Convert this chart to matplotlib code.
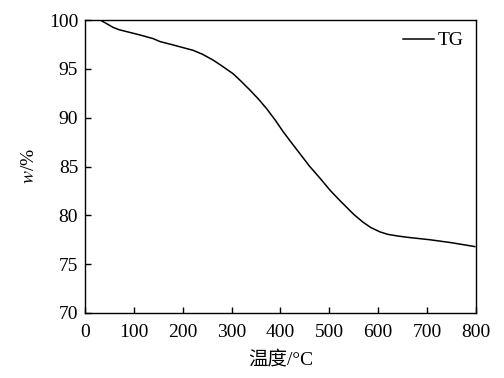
import matplotlib
matplotlib.use("Agg")
import matplotlib.pyplot as plt

# TG curve
temp = [31, 45, 57, 70, 86, 110, 139, 153, 180, 221, 240, 262, 280, 303, 320,
        338, 355, 372, 390, 405, 420, 440, 460, 481, 501, 520, 536, 550, 569,
        585, 604, 620, 638, 660, 706, 750, 798]
weight = [100.0, 99.6, 99.25, 99.0, 98.8, 98.5, 98.1, 97.8, 97.45, 96.9, 96.5,
          95.9, 95.3, 94.5, 93.7, 92.8, 91.9, 90.9, 89.7, 88.6, 87.6, 86.3,
          85.0, 83.8, 82.6, 81.6, 80.8, 80.1, 79.3, 78.75, 78.3, 78.05, 77.9,
          77.75, 77.5, 77.2, 76.8]

xticks = [0, 100, 200, 300, 400, 500, 600, 700, 800]
yticks = [70, 75, 80, 85, 90, 95, 100]

plt.rcParams['font.family'] = ['Liberation Serif', 'Noto Sans CJK SC']
plt.rcParams['mathtext.fontset'] = 'stix'
plt.rcParams['font.size'] = 14

fig = plt.figure(figsize=(5.04, 3.78), dpi=100)
ax = fig.add_axes([0.169, 0.172, 0.775, 0.775])

ax.plot(temp, weight, color='black', lw=1.1, label='TG')

ax.set_xlim(0, 800)
ax.set_ylim(70, 100)
ax.set_xticks(xticks)
ax.set_yticks(yticks)
ax.tick_params(axis='x', direction='in', length=4, width=1, top=False, pad=8, labelsize=14)
ax.tick_params(axis='y', direction='in', length=4, width=1, right=False, pad=5, labelsize=14)
for s in ax.spines.values():
    s.set_linewidth(1)

ax.set_xlabel('温度/°C', fontsize=14, labelpad=7)
ax.set_ylabel('$w$/%', fontsize=14, labelpad=8)

ax.legend(loc='upper right', frameon=False, fontsize=14, handlelength=1.6,
          handletextpad=0.2, borderaxespad=0.2)

fig.savefig('out.png', dpi=100)
